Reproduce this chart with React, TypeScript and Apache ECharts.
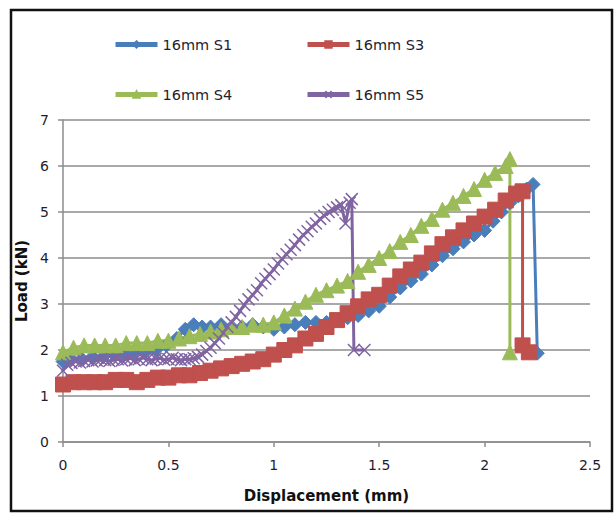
import React, { useEffect, useRef } from 'react';
import * as echarts from 'echarts';

const seriesNames = ['16mm S1', '16mm S3', '16mm S4', '16mm S5'];

const s1X = [0, 0.04, 0.09, 0.14, 0.19, 0.24, 0.29, 0.34, 0.39, 0.44, 0.49, 0.54, 0.58, 0.62, 0.66, 0.7, 0.75, 0.8, 0.85, 0.9, 0.95, 1.0, 1.05, 1.1, 1.15, 1.2, 1.25, 1.3, 1.35, 1.4, 1.45, 1.5, 1.55, 1.6, 1.65, 1.7, 1.75, 1.8, 1.85, 1.9, 1.95, 2.0, 2.04, 2.08, 2.12, 2.16, 2.2, 2.23, 2.25];
const s1Y = [1.75, 1.8, 1.8, 1.85, 1.85, 1.9, 1.9, 1.95, 1.95, 2.0, 2.1, 2.25, 2.45, 2.55, 2.5, 2.5, 2.55, 2.5, 2.5, 2.55, 2.5, 2.45, 2.5, 2.55, 2.6, 2.6, 2.6, 2.65, 2.7, 2.75, 2.85, 2.95, 3.15, 3.35, 3.5, 3.65, 3.85, 4.05, 4.2, 4.35, 4.5, 4.6, 4.8, 5.0, 5.2, 5.35, 5.5, 5.6, 1.93];

const s3X = [0, 0.05, 0.1, 0.15, 0.2, 0.25, 0.3, 0.35, 0.4, 0.45, 0.5, 0.55, 0.6, 0.65, 0.7, 0.75, 0.8, 0.85, 0.9, 0.95, 1.0, 1.05, 1.1, 1.15, 1.2, 1.25, 1.3, 1.35, 1.4, 1.45, 1.5, 1.55, 1.6, 1.65, 1.7, 1.75, 1.8, 1.85, 1.9, 1.95, 2.0, 2.05, 2.1, 2.15, 2.18, 2.18, 2.21];
const s3Y = [1.25, 1.3, 1.3, 1.3, 1.3, 1.35, 1.35, 1.3, 1.35, 1.4, 1.4, 1.45, 1.45, 1.5, 1.55, 1.6, 1.65, 1.7, 1.75, 1.8, 1.9, 2.0, 2.1, 2.25, 2.35, 2.5, 2.65, 2.8, 2.95, 3.1, 3.2, 3.4, 3.6, 3.75, 3.9, 4.1, 4.3, 4.45, 4.6, 4.75, 4.9, 5.05, 5.25, 5.4, 5.45, 2.1, 1.95];

const s4X = [0, 0.05, 0.1, 0.15, 0.2, 0.25, 0.3, 0.35, 0.4, 0.45, 0.5, 0.55, 0.6, 0.65, 0.7, 0.75, 0.8, 0.85, 0.9, 0.95, 1.0, 1.05, 1.1, 1.15, 1.2, 1.25, 1.3, 1.35, 1.4, 1.45, 1.5, 1.55, 1.6, 1.65, 1.7, 1.75, 1.8, 1.85, 1.9, 1.95, 2.0, 2.05, 2.1, 2.12, 2.12];
const s4Y = [1.95, 2.05, 2.1, 2.1, 2.1, 2.1, 2.15, 2.15, 2.15, 2.2, 2.2, 2.25, 2.3, 2.35, 2.4, 2.45, 2.5, 2.5, 2.55, 2.55, 2.6, 2.75, 2.9, 3.05, 3.2, 3.3, 3.4, 3.5, 3.7, 3.85, 4.0, 4.15, 4.35, 4.5, 4.7, 4.85, 5.05, 5.2, 5.35, 5.5, 5.7, 5.85, 6.0, 6.15, 1.95];

const s5X = [
  0, 0.02, 0.04, 0.06, 0.08, 0.1, 0.12, 0.14, 0.16, 0.18,
  0.2, 0.22, 0.24, 0.26, 0.28, 0.3, 0.32, 0.34, 0.36, 0.38,
  0.4, 0.42, 0.44, 0.46, 0.48, 0.5, 0.52, 0.54, 0.56, 0.58,
  0.6, 0.62, 0.64, 0.66, 0.68, 0.7, 0.72, 0.74, 0.76, 0.78,
  0.8, 0.82, 0.84, 0.86, 0.88, 0.9, 0.92, 0.94, 0.96, 0.98,
  1.0, 1.02, 1.04, 1.06, 1.08, 1.1, 1.12, 1.14, 1.16, 1.18,
  1.2, 1.22, 1.24, 1.26, 1.28, 1.3, 1.32, 1.34, 1.36,
  1.37, 1.38, 1.43,
];
const s5Y = [
  1.55, 1.68, 1.72, 1.75, 1.73, 1.76, 1.78, 1.75, 1.77, 1.8,
  1.78, 1.76, 1.79, 1.8, 1.77, 1.8, 1.82, 1.78, 1.8, 1.83,
  1.8, 1.78, 1.81, 1.82, 1.79, 1.8, 1.83, 1.8, 1.78, 1.8,
  1.8, 1.82, 1.85, 1.9, 1.98, 2.05, 2.15, 2.25, 2.37, 2.5,
  2.6, 2.72, 2.85, 2.98, 3.1, 3.2, 3.3, 3.45, 3.55, 3.65,
  3.75, 3.88, 3.98, 4.08, 4.18, 4.28, 4.4, 4.5, 4.58, 4.68,
  4.75, 4.85, 4.92, 5.0, 5.05, 5.1, 5.15, 4.75, 5.2,
  5.28, 2.0, 2.0,
];

const xMin = 0, xMax = 2.5, xStep = 0.5;
const yMin = 0, yMax = 7, yStep = 1;

const colors = ['#4a7ebb', '#c0504d', '#9bbb59', '#8064a2'];

export default function App() {
  const ref = useRef<HTMLDivElement>(null);
  useEffect(() => {
    const chart = echarts.init(ref.current!, null, { renderer: 'svg' });
    const font = 'DejaVu Sans';
    const textColor = '#1e1e2e';
    const grid = '#8c8c8c';
    const mk = (i: number, xs: number[], ys: number[], symbol: string, size: number, bw: number) => ({
      name: seriesNames[i],
      type: 'line',
      data: xs.map((x, k) => [x, ys[k]]),
      symbol,
      symbolSize: size,
      showSymbol: true,
      showAllSymbol: true,
      lineStyle: { color: colors[i], width: 3 },
      itemStyle: { color: colors[i], borderColor: colors[i], borderWidth: bw },
      emphasis: { disabled: true },
    });
    const legendItem = (i: number, left: number, top: number) => ({
      data: [seriesNames[i]],
      left,
      top,
      padding: 0,
      itemWidth: 42,
      itemHeight: 8,
      selectedMode: false,
      textStyle: { fontFamily: font, fontSize: 14.5, color: textColor, padding: [0, 0, 0, 0] },
      lineStyle: { width: 5 },
    });
    chart.setOption({
      animation: false,
      backgroundColor: '#ffffff',
      grid: { left: 63, right: 26, top: 120, bottom: 72, containLabel: false },
      legend: [
        legendItem(0, 113, 37),
        legendItem(1, 305, 37),
        legendItem(2, 113, 87),
        legendItem(3, 305, 87),
      ],
      xAxis: {
        type: 'value',
        min: xMin,
        max: xMax,
        interval: xStep,
        axisLine: { show: true, onZero: false, lineStyle: { color: grid, width: 1.5 } },
        axisTick: { show: true, length: 5, lineStyle: { color: grid, width: 1.5 } },
        splitLine: { show: false },
        axisLabel: { color: textColor, fontFamily: font, fontSize: 14, margin: 16 },
        name: 'Displacement (mm)',
        nameLocation: 'middle',
        nameGap: 46,
        nameTextStyle: { fontFamily: font, fontWeight: 'bold', fontSize: 15, color: '#111' },
      },
      yAxis: {
        type: 'value',
        min: yMin,
        max: yMax,
        interval: yStep,
        axisLine: { show: true, lineStyle: { color: grid, width: 1.5 } },
        axisTick: { show: true, length: 5, lineStyle: { color: grid, width: 1.5 } },
        splitLine: { show: true, lineStyle: { color: grid, width: 1.5 } },
        axisLabel: { color: textColor, fontFamily: font, fontSize: 14, margin: 14 },
        name: 'Load (kN)',
        nameLocation: 'middle',
        nameGap: 31,
        nameTextStyle: { fontFamily: font, fontWeight: 'bold', fontSize: 15, color: '#111' },
      },
      graphic: [
        {
          type: 'rect',
          shape: { x: 11, y: 10, width: 601, height: 501 },
          style: { fill: 'none', stroke: '#111', lineWidth: 2.5 },
          silent: true,
          z: 100,
        },
      ],
      series: [
        mk(0, s1X, s1Y, 'diamond', 14, 1),
        mk(1, s3X, s3Y, 'rect', 15, 1),
        mk(2, s4X, s4Y, 'triangle', 15, 1),
        mk(3, s5X, s5Y, 'path://M0,0L10,10M10,0L0,10', 12, 1.5),
      ],
    });
    return () => chart.dispose();
  }, []);
  return (
    <div
      ref={ref}
      style={{ position: 'fixed', left: 0, top: 0, width: 616, height: 514, background: '#fff' }}
    />
  );
}
